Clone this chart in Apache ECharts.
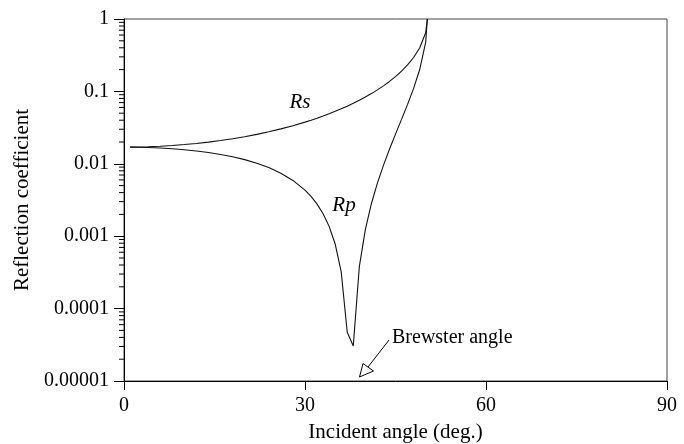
<!DOCTYPE html>
<html>
<head>
<meta charset="utf-8">
<script src="https://cdn.jsdelivr.net/npm/echarts@6/dist/echarts.min.js"></script>
<style>
  html, body { margin: 0; padding: 0; background: #fff; }
  #chart { width: 684px; height: 444px; }
</style>
</head>
<body>
<div id="chart"></div>
<script>
// incident angle (deg.)
var angles = [1, 2, 4, 6, 8, 10, 12, 14, 16, 18, 20, 22, 24, 26, 28, 30, 31, 32, 33, 34,
  35, 36, 37, 38, 39, 40, 41, 42, 43, 44, 45, 46, 47, 48, 49, 50, 50.28];
var rsValues = [0.01703, 0.01707, 0.01723, 0.01751, 0.01790, 0.01843, 0.01910, 0.01994, 0.02096, 0.02219,
  0.02369, 0.02550, 0.02769, 0.03035, 0.03361, 0.03765, 0.04003, 0.04270, 0.04571, 0.04912,
  0.05300, 0.05744, 0.06254, 0.06846, 0.07537, 0.08352, 0.09324, 0.1050, 0.1193, 0.1373,
  0.1602, 0.1905, 0.2323, 0.2940, 0.3973, 0.6460, 1];
var rpValues = [0.01700, 0.01696, 0.01680, 0.01653, 0.01615, 0.01565, 0.01504, 0.01432, 0.01347, 0.01250,
  0.01141, 0.01019, 0.008861, 0.007421, 0.005895, 0.004323, 0.003539, 0.002772, 0.002041, 0.001367,
  0.000781, 0.000322, 0.0000471, 0.0000304, 0.000376, 0.001232, 0.002808, 0.005416, 0.009523, 0.01587,
  0.02567, 0.04107, 0.06618, 0.1101, 0.1988, 0.4752, 1];
var xTicks = [0, 30, 60, 90];
var yTickLabels = ['0.00001', '0.0001', '0.001', '0.01', '0.1', '1'];

// minor ticks of the log axis (2..9 in every decade)
var minorTicks = [];
for (var k = -5; k < 0; k++) {
  for (var m = 2; m <= 9; m++) minorTicks.push(m * Math.pow(10, k));
}

var serif = '"Liberation Serif", "DejaVu Serif", serif';

function pairs(ys) {
  return angles.map(function (a, i) { return [a, ys[i]]; });
}

var chart = echarts.init(document.getElementById('chart'));
chart.setOption({
  animation: false,
  backgroundColor: '#fff',
  grid: {
    left: 124, right: 17, top: 19, bottom: 63,
    outerBoundsMode: 'none',
    show: true, borderColor: '#444', borderWidth: 1
  },
  xAxis: {
    type: 'value',
    min: 0, max: 90, interval: 30,
    name: 'Incident angle (deg.)',
    nameLocation: 'middle',
    nameGap: 41,
    nameTextStyle: { fontFamily: serif, fontSize: 21, color: '#000' },
    axisLine: { lineStyle: { color: '#000', width: 1 } },
    axisTick: { inside: false, length: 9, lineStyle: { color: '#000' } },
    axisLabel: {
      fontFamily: serif, fontSize: 20, color: '#000', margin: 15,
      formatter: function (v) { return xTicks.indexOf(v) >= 0 ? String(v) : ''; }
    },
    splitLine: { show: false }
  },
  yAxis: {
    type: 'log',
    logBase: 10,
    min: 0.00001, max: 1,
    name: 'Reflection coefficient',
    nameLocation: 'middle',
    nameGap: 89,
    nameTextStyle: { fontFamily: serif, fontSize: 21, color: '#000' },
    axisLine: { lineStyle: { color: '#000', width: 1 } },
    axisTick: { inside: false, length: 10, lineStyle: { color: '#000' } },
    axisLabel: {
      fontFamily: serif, fontSize: 20, color: '#000', margin: 15,
      formatter: function (v) { return yTickLabels[Math.round(Math.log10(v)) + 5]; }
    },
    splitLine: { show: false }
  },
  series: [
    {
      name: 'Rs', type: 'line', data: pairs(rsValues),
      showSymbol: false, smooth: false,
      lineStyle: { color: '#111', width: 1.1 }
    },
    {
      name: 'Rp', type: 'line', data: pairs(rpValues),
      showSymbol: false, smooth: false,
      lineStyle: { color: '#111', width: 1.1 }
    },
    {
      // minor ticks on the log axis
      type: 'custom', silent: true, clip: false,
      data: minorTicks.map(function (v) { return [0, v]; }),
      renderItem: function (params, api) {
        var p = api.coord([0, api.value(1)]);
        return {
          type: 'line',
          shape: { x1: p[0] - 5, y1: p[1], x2: p[0], y2: p[1] },
          style: { stroke: '#000', lineWidth: 1 }
        };
      }
    }
  ],
  graphic: [
    { type: 'text', x: 300, y: 102, style: { text: 'Rs', font: 'italic 21px ' + serif, fill: '#000', align: 'center', verticalAlign: 'middle' } },
    { type: 'text', x: 344, y: 205, style: { text: 'Rp', font: 'italic 21px ' + serif, fill: '#000', align: 'center', verticalAlign: 'middle' } },
    { type: 'text', x: 392, y: 338, style: { text: 'Brewster angle', font: '20px ' + serif, fill: '#000', align: 'left', verticalAlign: 'middle' } },
    { type: 'line', shape: { x1: 389, y1: 340, x2: 368, y2: 367 }, style: { stroke: '#000', lineWidth: 1 } },
    { type: 'polygon', shape: { points: [[359.5, 377], [363, 363.5], [373.5, 371]] }, style: { fill: '#fff', stroke: '#000', lineWidth: 1 } }
  ]
});
</script>
</body>
</html>
